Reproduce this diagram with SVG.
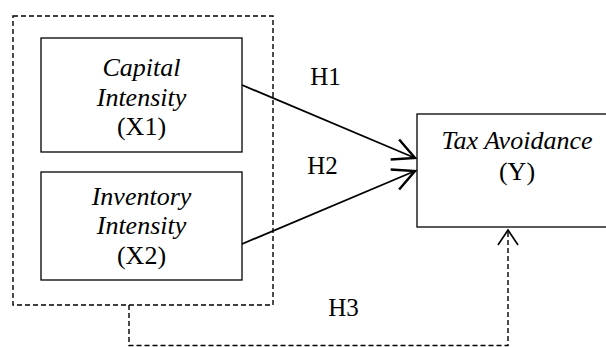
<svg xmlns="http://www.w3.org/2000/svg" width="606" height="347" viewBox="0 0 606 347">
<style>
.box{fill:#fff;stroke:#000;stroke-width:1.3}
.dash{fill:none;stroke:#000;stroke-width:1.4;stroke-dasharray:5,3}
.line{fill:none;stroke:#000;stroke-width:1.8}
text{font-family:"Liberation Serif","Times New Roman",serif;font-size:26px;fill:#000;text-anchor:middle}
.it{font-style:italic}
.lbl{font-size:25px}
</style>
<defs>
<marker id="arr" markerUnits="userSpaceOnUse" markerWidth="30" markerHeight="30" refX="0" refY="0" viewBox="-18 -10 22 20" orient="auto">
<path d="M-16,-8 L0,0 L-16,8" fill="none" stroke="#000" stroke-width="1.8"/>
</marker>
</defs>
<rect class="dash" x="13" y="16" width="260" height="289"/>
<g id="capital">
<rect class="box" x="41" y="38" width="201" height="114"/>
<text class="it" x="141.5" y="76">Capital</text>
<text class="it" x="141.5" y="106">Intensity</text>
<text x="141.5" y="135">(X1)</text>
</g>
<g id="inventory">
<rect class="box" x="41" y="172" width="201" height="108"/>
<text class="it" x="141.5" y="205">Inventory</text>
<text class="it" x="141.5" y="234">Intensity</text>
<text x="141.5" y="264">(X2)</text>
</g>
<g id="tax">
<rect class="box" x="417" y="114" width="200" height="113"/>
<text class="it" x="517" y="149">Tax Avoidance</text>
<text x="517" y="180">(Y)</text>
</g>
<g id="connectors">
<line class="line" x1="242" y1="85" x2="415" y2="158" marker-end="url(#arr)"/>
<line class="line" x1="242" y1="244" x2="415" y2="171" marker-end="url(#arr)"/>
<polyline class="dash" points="129,305 129,345.5 508,345.5 508,230"/>
<path d="M498,245 L508,230 L518,245" fill="none" stroke="#000" stroke-width="1.6"/>
</g>
<g id="labels">
<text class="lbl" x="325.5" y="85">H1</text>
<text class="lbl" x="322.5" y="174">H2</text>
<text class="lbl" x="343.5" y="316">H3</text>
</g>
</svg>
